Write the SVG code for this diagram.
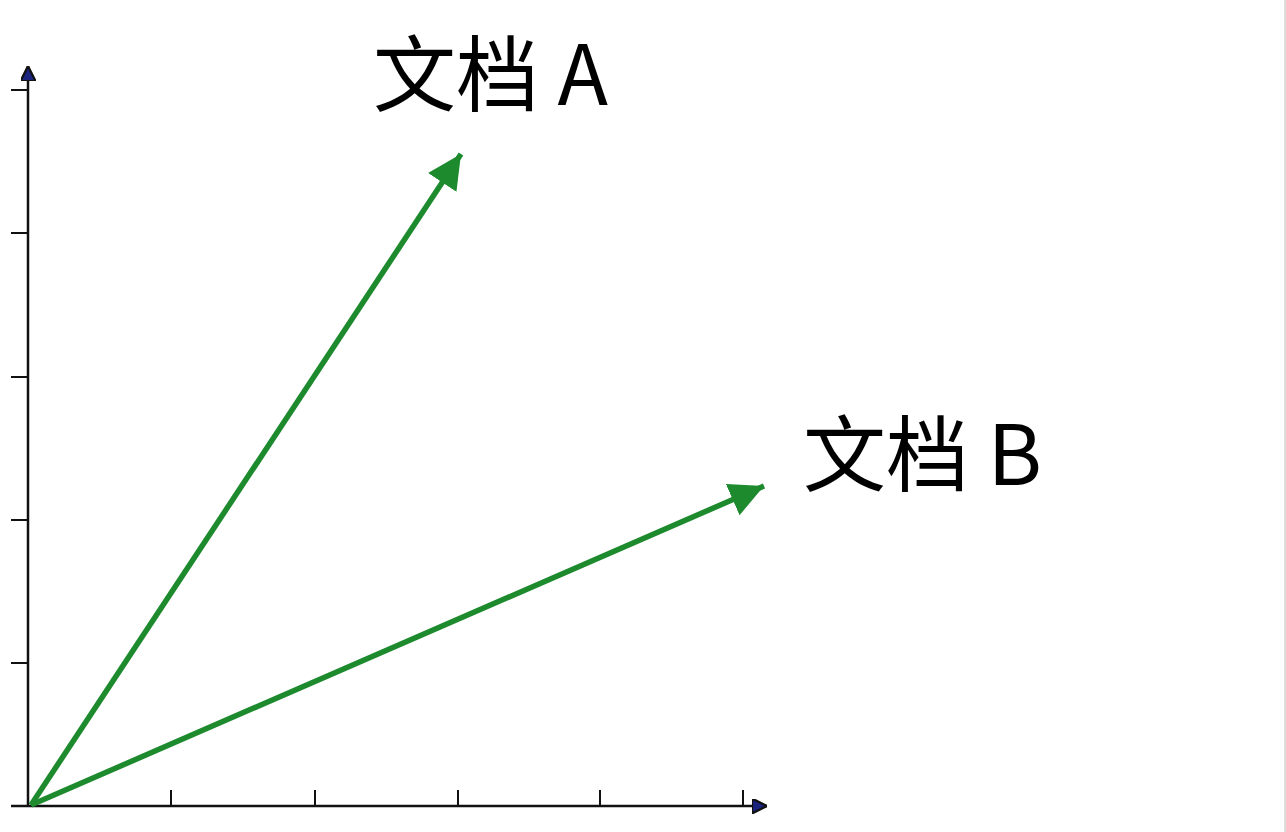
<svg xmlns="http://www.w3.org/2000/svg" width="1286" height="832" viewBox="0 0 1286 832">
<style>
.axis{stroke:#111;stroke-width:2.5;fill:none}
.tick{stroke:#111;stroke-width:2;fill:none}
.vec{stroke:#1e8a2e;stroke-width:5.5;fill:none}
.lbl{font-family:"Noto Sans CJK SC","Noto Sans",sans-serif;font-size:83px;fill:#000}
</style>
<defs>
<marker id="ax" viewBox="0 0 10 10" refX="10" refY="5" markerWidth="6" markerHeight="6" markerUnits="strokeWidth" orient="auto">
<path d="M0,0 L10,5 L0,10 Z" fill="#1a237e" stroke="#111" stroke-width="1.5"/>
</marker>
<marker id="gh" viewBox="0 0 10 10" refX="10" refY="5" markerWidth="6.2" markerHeight="6.2" markerUnits="strokeWidth" orient="auto">
<path d="M0,0 L10,5 L0,10 Z" fill="#1e8a2e"/>
</marker>
</defs>
<rect width="1286" height="832" fill="#fff"/>
<line x1="1285" y1="0" x2="1285" y2="832" stroke="#ddd" stroke-width="2"/>
<g id="axes">
<line class="axis" x1="28" y1="806" x2="28" y2="66" marker-end="url(#ax)"/>
<line class="axis" x1="11" y1="806" x2="767" y2="806" marker-end="url(#ax)"/>
<path class="tick" d="M11,90H28M11,233H28M11,377H28M11,520H28M11,663H28"/>
<path class="tick" d="M171,790V806M315,790V806M458,790V806M600,790V806M743,790V806"/>
</g>
<g id="connectors">
<line class="vec" x1="31" y1="805" x2="461" y2="154" marker-end="url(#gh)"/>
<line class="vec" x1="31" y1="805" x2="764" y2="486" marker-end="url(#gh)"/>
</g>
<g id="docA"><text class="lbl" x="373" y="105">文档 A</text></g>
<g id="docB"><text class="lbl" x="803" y="485">文档 B</text></g>
</svg>
